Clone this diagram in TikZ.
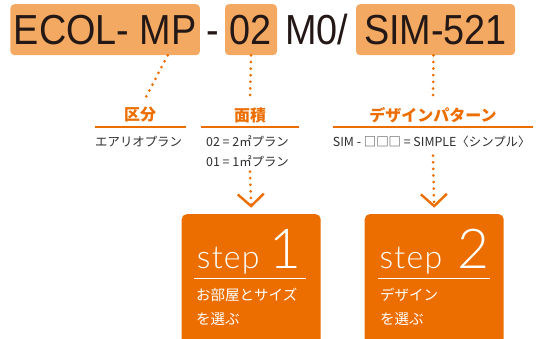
\documentclass[tikz,border=0pt]{standalone}
\usepackage{fontspec}
\usetikzlibrary{arrows.meta}
\setmainfont{Liberation Sans}
\newfontfamily\codefont{Liberation Sans}[FakeStretch=0.9]
\newfontfamily\jpfont{Noto Sans CJK JP}
\newfontfamily\stepfont{Lato Light}[LetterSpace=4]
\definecolor{codebg}{RGB}{244,169,98}
\definecolor{ink}{RGB}{35,24,21}
\definecolor{brand}{RGB}{236,110,0}
\definecolor{note}{RGB}{45,45,45}
\begin{document}
\begin{tikzpicture}[x=1pt, y=-1pt,
  codebox/.style={fill=codebg, rounded corners=4pt, minimum height=51pt, inner sep=0pt,
    text height=30pt, text depth=0pt, text=ink, font=\codefont\fontsize{42}{42}\selectfont},
  codetext/.style={inner sep=0pt, text height=30pt, text depth=0pt, text=ink,
    font=\codefont\fontsize{42}{42}\selectfont},
  heading/.style={inner sep=0pt, text=brand, font=\jpfont\bfseries\fontsize{16}{16}\selectfont},
  rule/.style={draw=brand, line width=2pt},
  notetext/.style={inner sep=0pt, anchor=west, text=note, font=\jpfont\fontsize{12.4}{12}\selectfont},
  dots/.style={draw=brand, line width=3pt, line cap=round, dash pattern=on 0pt off 6.6pt},
  chevron/.style={-{Straight Barb[length=12pt, width=26pt, line width=2.4pt]}},
  stepbox/.style={fill=brand, rounded corners=5pt, minimum width=139pt, minimum height=150pt,
    anchor=north, inner sep=0pt},
  stepword/.style={inner sep=0pt, anchor=base west, text=white, font=\stepfont\fontsize{32}{32}\selectfont},
  stepnum/.style={inner sep=0pt, anchor=base east, text=white, font=\stepfont\fontsize{55}{55}\selectfont},
  steprule/.style={draw=white, line width=1.2pt},
  steptext/.style={inner sep=0pt, anchor=north west, align=left, text=white,
    font=\jpfont\fontsize{14.5}{24}\selectfont}]
  \useasboundingbox (0,0) rectangle (547,338);
  \clip (0,0) rectangle (547,338);
  % Product code
  \node[codebox, minimum width=189.5pt] (mp) at (105.2,29.7) {ECOL- MP};
  \node[codetext] (hyph) at (213,29.7) {-};
  \node[codebox, minimum width=52pt] (num) at (251,29.7) {02};
  \node[codetext] (mo) at (317,29.7) {M0/};
  \node[codebox, minimum width=159pt] (sim) at (435.5,29.7) {SIM-521};
  % Headings
  \node[heading] (kubun) at (140,115) {区分};
  \draw[rule] (95,126.7) -- (186,126.7);
  \node[heading] (menseki) at (250,115) {面積};
  \draw[rule] (200.7,126.7) -- (299,126.7);
  \node[heading] (design) at (433,115) {デザインパターン};
  \draw[rule] (332.7,126.5) -- (533.3,126.5);
  % Notes
  \node[notetext] (area) at (95,141.7) {エアリオプラン};
  \node[notetext] (size02) at (206,141.7) {02 = 2㎡プラン};
  \node[notetext] (size01) at (206,161.7) {01 = 1㎡プラン};
  \node[notetext] (simnote) at (332.7,141.7) {SIM - □□□ = SIMPLE〈シンプル〉};
  % Dotted leaders
  \draw[dots] ([xshift=62.5pt]mp.south) -- ([xshift=4.3pt, yshift=7pt]kubun.north);
  \draw[dots] (num.south) -- ([yshift=7pt]menseki.north);
  \draw[dots] ([xshift=-2pt]sim.south) -- ([yshift=7pt]design.north);
  % Step boxes
  \node[stepbox] (step1) at (251.2,214) {};
  \node[stepbox] (step2) at (434.2,214) {};
  \draw[dots, chevron] ([yshift=-4pt]size01.south -| menseki.south) -- ([yshift=6.3pt]step1.north);
  \draw[dots, chevron] ([yshift=-8pt]simnote.south -| design.south) -- ([yshift=6.3pt]step2.north);
  % Step 1
  \node[stepword] (s1word) at (196.7,268) {step};
  \node[stepnum] (s1num) at (301.7,268) {1};
  \draw[steprule] (194,278.3) -- (306,278.3);
  \node[steptext] (s1text) at (196,288) {お部屋とサイズ\\を選ぶ};
  % Step 2
  \node[stepword] (s2word) at (379.3,268) {step};
  \node[stepnum] (s2num) at (490,268) {2};
  \draw[steprule] (378,278.3) -- (490,278.3);
  \node[steptext] (s2text) at (380,288) {デザイン\\を選ぶ};
\end{tikzpicture}
\end{document}
